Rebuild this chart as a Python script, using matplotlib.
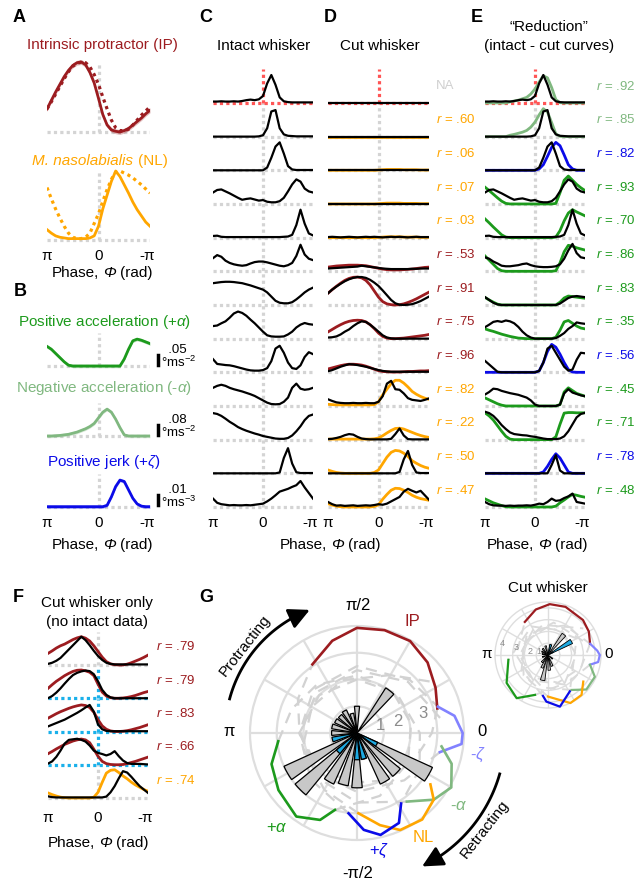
import numpy as np
import matplotlib.pyplot as plt
from matplotlib.lines import Line2D
from matplotlib.offsetbox import TextArea, HPacker, AnnotationBbox

plt.rcParams['font.family'] = ['Liberation Sans', 'DejaVu Sans']
plt.rcParams['mathtext.fontset'] = 'custom'
plt.rcParams['mathtext.rm'] = 'Liberation Sans'
plt.rcParams['mathtext.it'] = 'Liberation Sans:italic'
plt.rcParams['mathtext.bf'] = 'Liberation Sans:bold'

# colours
IP_C = '#9c1c20'
NL_C = '#ffa600'
PA_C = '#1c9a1c'
NA_C = '#80b880'
PZ_C = '#0b0be8'
NZ_C = '#8282ff'
DOT_C = '#d4d4d4'
RED_DOT = '#ff5555'
CYAN_DOT = '#1ab0ea'
NA_TXT = '#d0d0d0'
GRID_C = '#dedede'
COLS = {'IP': IP_C, 'NL': NL_C, '+a': PA_C, '-a': NA_C, '+z': PZ_C, '-z': NZ_C, '': NA_TXT}

# phase samples: pi on the left down to -pi on the right, 15 deg steps
phase = np.linspace(np.pi, -np.pi, 25)

# ---- A / B: muscle and kinematic models (normalised)
ip_solid = [0.33, 0.45, 0.57, 0.68, 0.79, 0.88, 0.95, 0.99, 1.0, 0.96, 0.85, 0.7, 0.48, 0.25, 0.1,
            0.03, 0.01, 0.0, 0.02, 0.05, 0.1, 0.15, 0.2, 0.26, 0.31]
ip_dotted = [0.33, 0.43, 0.54, 0.65, 0.76, 0.86, 0.94, 0.98, 1.0, 0.99, 0.93, 0.82, 0.68, 0.5, 0.33,
             0.17, 0.06, 0.02, 0.02, 0.04, 0.1, 0.17, 0.24, 0.3, 0.36]
nl_solid = [0.15, 0.1, 0.06, 0.04, 0.03, 0.02, 0.02, 0.02, 0.02, 0.02, 0.03, 0.06, 0.2, 0.45, 0.65,
            0.85, 1.0, 0.92, 0.8, 0.68, 0.55, 0.44, 0.35, 0.26, 0.2]
nl_dotted = [0.76, 0.6, 0.45, 0.32, 0.2, 0.1, 0.04, 0.02, 0.02, 0.04, 0.1, 0.24, 0.38, 0.56, 0.73,
             0.88, 0.98, 1.0, 0.97, 0.94, 0.9, 0.85, 0.8, 0.74, 0.68]
pos_acc = [0.7, 0.6, 0.45, 0.3, 0.15, 0.03, 0, 0, 0, 0, 0, 0, 0, 0, 0, 0, 0, 0, 0.25, 0.6,
           0.9, 0.96, 0.92, 0.86, 0.8]
neg_acc = [0, 0, 0.01, 0.02, 0.04, 0.06, 0.1, 0.14, 0.2, 0.26, 0.34, 0.45, 0.65, 0.85, 0.96,
           0.85, 0.6, 0.3, 0.04, 0, 0, 0, 0, 0, 0]
pos_jerk = [0, 0, 0, 0, 0, 0, 0, 0, 0, 0, 0, 0, 0, 0, 0.05, 0.35, 0.72, 0.95, 0.9, 0.6,
            0.3, 0.1, 0.02, 0, 0]

# ---- C: intact whisker, 13 units
intact_rows = [
    [0.05, 0.05, 0.06, 0.05, 0.05, 0.06, 0.05, 0.07, 0.1, 0.12, 0.1, 0.13, 0.25, 0.7, 1.0, 0.65, 0.2, 0.06, 0.03, 0.02, 0.02, 0.02, 0.02, 0.02, 0.02],
    [0, 0, 0, 0, 0, 0, 0, 0, 0, 0, 0, 0.01, 0.05, 0.3, 0.9, 0.95, 0.3, 0.08, 0.03, 0.02, 0.01, 0.01, 0.01, 0.01, 0.01],
    [0, 0, 0, 0, 0, 0, 0, 0, 0, 0, 0, 0, 0, 0.1, 0.45, 0.85, 1.0, 0.6, 0.15, 0.03, 0.01, 0.01, 0.01, 0.01, 0.01],
    [0.41, 0.5, 0.52, 0.45, 0.38, 0.3, 0.22, 0.15, 0.18, 0.2, 0.16, 0.12, 0.14, 0.08, 0.06, 0.06, 0.1, 0.22, 0.45, 0.7, 0.88, 0.8, 0.55, 0.45, 0.41],
    [0.06, 0.07, 0.03, 0.02, 0.02, 0.02, 0.02, 0.02, 0.02, 0.02, 0.02, 0.02, 0.02, 0.02, 0.02, 0.02, 0.02, 0.03, 0.04, 0.1, 0.45, 1.0, 0.5, 0.15, 0.08],
    [0.47, 0.58, 0.52, 0.38, 0.3, 0.25, 0.22, 0.2, 0.22, 0.28, 0.33, 0.35, 0.35, 0.32, 0.28, 0.24, 0.2, 0.18, 0.22, 0.3, 0.55, 0.95, 0.6, 0.45, 0.4],
    [0.78, 0.8, 0.82, 0.83, 0.83, 0.82, 0.8, 0.78, 0.74, 0.7, 0.65, 0.6, 0.55, 0.45, 0.3, 0.15, 0.08, 0.06, 0.06, 0.1, 0.2, 0.32, 0.45, 0.55, 0.62],
    [0.45, 0.47, 0.55, 0.62, 0.75, 0.9, 0.97, 0.92, 0.82, 0.68, 0.55, 0.4, 0.25, 0.12, 0.08, 0.07, 0.07, 0.08, 0.15, 0.25, 0.4, 0.5, 0.56, 0.52, 0.5],
    [0.47, 0.3, 0.28, 0.26, 0.25, 0.22, 0.18, 0.14, 0.1, 0.07, 0.06, 0.06, 0.08, 0.15, 0.4, 0.85, 0.95, 0.7, 0.35, 0.15, 0.12, 0.25, 0.55, 0.72, 0.65],
    [0.65, 0.72, 0.76, 0.72, 0.65, 0.6, 0.56, 0.52, 0.47, 0.42, 0.36, 0.28, 0.2, 0.12, 0.07, 0.06, 0.07, 0.15, 0.3, 0.65, 0.8, 0.62, 0.58, 0.6, 0.65],
    [0.95, 0.92, 0.85, 0.75, 0.64, 0.55, 0.45, 0.38, 0.32, 0.27, 0.22, 0.18, 0.13, 0.1, 0.07, 0.04, 0.03, 0.03, 0.06, 0.15, 0.3, 0.48, 0.7, 0.85, 0.9],
    [0, 0, 0, 0, 0, 0, 0, 0, 0, 0, 0, 0, 0, 0, 0, 0, 0.03, 0.55, 0.9, 0.35, 0.04, 0.01, 0.01, 0.01, 0.01],
    [0.3, 0.15, 0.1, 0.08, 0.06, 0.07, 0.06, 0.06, 0.07, 0.06, 0.08, 0.1, 0.12, 0.2, 0.3, 0.42, 0.55, 0.6, 0.65, 0.72, 0.78, 0.93, 0.7, 0.5, 0.3],
]

# ---- D: cut whisker and model fits
cut_rows = [
    [0.0] * 25,
    [0.0] * 25,
    [0.0] * 25,
    [0.0] * 25,
    [0.02, 0.03, 0.02, 0.01, 0.02, 0.03, 0.02, 0.01, 0.02, 0.03, 0.02, 0.03, 0.02, 0.01, 0.02, 0.03, 0.02, 0.03, 0.02, 0.01, 0.02, 0.03, 0.02, 0.02, 0.02],
    [0.1, 0.11, 0.12, 0.13, 0.14, 0.15, 0.16, 0.17, 0.2, 0.18, 0.16, 0.14, 0.12, 0.1, 0.09, 0.08, 0.08, 0.08, 0.08, 0.08, 0.09, 0.09, 0.1, 0.1, 0.1],
    [0.42, 0.55, 0.66, 0.76, 0.85, 0.92, 0.97, 1.0, 1.0, 0.97, 0.9, 0.8, 0.68, 0.52, 0.35, 0.18, 0.06, 0.01, 0.0, 0.01, 0.03, 0.08, 0.14, 0.22, 0.3],
    [0.04, 0.05, 0.08, 0.15, 0.25, 0.33, 0.45, 0.55, 0.62, 0.6, 0.5, 0.38, 0.25, 0.12, 0.04, 0.01, 0, 0, 0, 0, 0, 0, 0, 0, 0],
    [0.04, 0.08, 0.14, 0.2, 0.25, 0.29, 0.28, 0.26, 0.23, 0.2, 0.16, 0.12, 0.08, 0.05, 0.03, 0.02, 0.02, 0.02, 0.02, 0.02, 0.02, 0.02, 0.02, 0.02, 0.02],
    [0.24, 0.18, 0.13, 0.11, 0.1, 0.1, 0.11, 0.1, 0.1, 0.11, 0.1, 0.1, 0.15, 0.35, 0.8, 0.9, 0.6, 0.58, 0.45, 0.28, 0.22, 0.2, 0.18, 0.22, 0.27],
    [0.02, 0.03, 0.06, 0.1, 0.16, 0.2, 0.18, 0.1, 0.04, 0.02, 0.01, 0.01, 0.01, 0.01, 0.01, 0.03, 0.2, 0.4, 0.15, 0.02, 0.01, 0.01, 0.01, 0.01, 0.01],
    [0, 0, 0, 0, 0, 0, 0, 0, 0, 0, 0, 0, 0, 0, 0, 0, 0, 0.05, 0.5, 0.8, 0.3, 0.03, 0.01, 0.01, 0.01],
    [0.18, 0.1, 0.05, 0.06, 0.04, 0.05, 0.06, 0.04, 0.05, 0.06, 0.05, 0.07, 0.1, 0.08, 0.12, 0.2, 0.28, 0.36, 0.55, 0.65, 0.58, 0.52, 0.58, 0.42, 0.26],
]
cut_fits = [
    [],
    [0.0] * 25,
    [0, 0, 0, 0, 0, 0, 0, 0, 0, 0, 0, 0, 0.01, 0.02, 0.03, 0.03, 0.03, 0.03, 0.02, 0.02, 0.02, 0.02, 0.01, 0.01, 0.01],
    [0, 0, 0, 0, 0, 0, 0, 0, 0, 0, 0, 0, 0.01, 0.02, 0.03, 0.03, 0.03, 0.03, 0.02, 0.02, 0.02, 0.02, 0.01, 0.01, 0.01],
    [0, 0, 0, 0, 0, 0, 0, 0, 0, 0, 0, 0, 0.01, 0.02, 0.03, 0.03, 0.03, 0.03, 0.02, 0.02, 0.02, 0.02, 0.01, 0.01, 0.01],
    [0.15, 0.17, 0.19, 0.2, 0.21, 0.22, 0.22, 0.22, 0.21, 0.2, 0.17, 0.14, 0.11, 0.08, 0.06, 0.05, 0.05, 0.05, 0.06, 0.07, 0.08, 0.1, 0.12, 0.14, 0.15],
    [0.42, 0.55, 0.67, 0.78, 0.88, 0.95, 0.99, 1.0, 0.97, 0.88, 0.72, 0.5, 0.28, 0.12, 0.04, 0.01, 0.0, 0.01, 0.04, 0.09, 0.15, 0.22, 0.3, 0.38, 0.46],
    [0.24, 0.33, 0.42, 0.5, 0.57, 0.62, 0.65, 0.66, 0.65, 0.6, 0.5, 0.36, 0.2, 0.08, 0.02, 0.0, 0.0, 0.01, 0.02, 0.04, 0.06, 0.08, 0.1, 0.12, 0.15],
    [0.12, 0.16, 0.2, 0.24, 0.27, 0.29, 0.29, 0.28, 0.26, 0.22, 0.17, 0.11, 0.06, 0.03, 0.02, 0.01, 0.01, 0.01, 0.02, 0.03, 0.03, 0.04, 0.05, 0.05, 0.06],
    [0.06, 0.05, 0.04, 0.04, 0.04, 0.04, 0.04, 0.04, 0.04, 0.04, 0.04, 0.05, 0.15, 0.4, 0.6, 0.8, 0.92, 0.92, 0.82, 0.68, 0.52, 0.42, 0.34, 0.28, 0.24],
    [0.02, 0.02, 0.02, 0.02, 0.02, 0.02, 0.02, 0.02, 0.02, 0.02, 0.02, 0.03, 0.06, 0.14, 0.24, 0.33, 0.4, 0.41, 0.38, 0.32, 0.26, 0.2, 0.15, 0.11, 0.08],
    [0.12, 0.07, 0.03, 0.01, 0, 0, 0, 0, 0, 0, 0, 0.03, 0.12, 0.35, 0.58, 0.75, 0.82, 0.8, 0.72, 0.6, 0.45, 0.36, 0.28, 0.22, 0.18],
    [0.12, 0.07, 0.03, 0.01, 0, 0, 0, 0, 0, 0, 0, 0.02, 0.08, 0.28, 0.45, 0.6, 0.67, 0.66, 0.6, 0.52, 0.42, 0.35, 0.3, 0.27, 0.24],
]
cut_fit_names = ['', 'NL', 'NL', 'NL', 'NL', 'IP', 'IP', 'IP', 'IP', 'NL', 'NL', 'NL', 'NL']
cut_r = ['NA', '.60', '.06', '.07', '.03', '.53', '.91', '.75', '.96', '.82', '.22', '.50', '.47']

# ---- E: reduction (intact - cut) and kinematic fits
red_rows = intact_rows[:5] + [
    [0.5, 0.45, 0.35, 0.28, 0.2, 0.18, 0.18, 0.2, 0.22, 0.26, 0.28, 0.22, 0.18, 0.16, 0.15, 0.15, 0.16, 0.18, 0.25, 0.45, 0.75, 0.98, 0.65, 0.5, 0.47],
    [0.28, 0.18, 0.08, 0.02, 0, 0, 0, 0, 0, 0, 0, 0, 0, 0, 0, 0, 0, 0, 0.05, 0.15, 0.25, 0.3, 0.32, 0.3, 0.28],
    [0.41, 0.5, 0.6, 0.63, 0.6, 0.65, 0.62, 0.55, 0.42, 0.25, 0.12, 0.04, 0, 0, 0, 0, 0, 0.02, 0.1, 0.2, 0.35, 0.45, 0.58, 0.55, 0.53],
    [0.41, 0.28, 0.15, 0.02, 0, 0, 0, 0, 0, 0, 0, 0, 0, 0.05, 0.35, 0.85, 0.95, 0.7, 0.45, 0.2, 0.06, 0.1, 0.45, 0.7, 0.68],
    [0.41, 0.5, 0.62, 0.6, 0.54, 0.5, 0.46, 0.43, 0.4, 0.35, 0.3, 0.2, 0.05, 0, 0, 0, 0, 0, 0.05, 0.45, 0.6, 0.48, 0.43, 0.38, 0.35],
    [1.0, 0.95, 0.85, 0.7, 0.52, 0.38, 0.26, 0.2, 0.18, 0.16, 0.15, 0.12, 0.1, 0.07, 0.04, 0.02, 0.02, 0.02, 0.04, 0.12, 0.3, 0.55, 0.8, 0.92, 0.96],
    [0, 0, 0, 0, 0, 0, 0, 0, 0, 0, 0, 0, 0, 0, 0, 0, 0.3, 0.65, 0.1, 0, 0, 0, 0, 0, 0],
    [0.18, 0.1, 0.06, 0.05, 0.05, 0.04, 0.05, 0.04, 0.05, 0.05, 0.06, 0.05, 0.08, 0.12, 0.1, 0.18, 0.3, 0.22, 0.24, 0.32, 0.38, 0.48, 0.18, 0.15, 0.12],
]
red_fits = [
    [0, 0, 0, 0, 0, 0, 0.04, 0.07, 0.1, 0.15, 0.2, 0.32, 0.5, 0.75, 0.97, 0.9, 0.55, 0.12, 0.01, 0, 0, 0, 0, 0, 0],
    [0, 0, 0, 0, 0, 0, 0.05, 0.08, 0.12, 0.16, 0.22, 0.34, 0.52, 0.78, 1.0, 0.88, 0.5, 0.1, 0.01, 0, 0, 0, 0, 0, 0],
    [0, 0, 0, 0, 0, 0, 0, 0, 0, 0, 0, 0, 0, 0.05, 0.2, 0.5, 0.82, 1.0, 0.88, 0.55, 0.2, 0.05, 0, 0, 0],
    [0.6, 0.48, 0.35, 0.22, 0.1, 0.02, 0, 0, 0, 0, 0, 0, 0, 0, 0, 0, 0, 0.02, 0.4, 0.85, 1.0, 0.85, 0.7, 0.58, 0.48],
    [0.67, 0.53, 0.38, 0.24, 0.1, 0.02, 0, 0, 0, 0, 0, 0, 0, 0, 0, 0, 0, 0.02, 0.25, 0.6, 0.88, 1.0, 0.92, 0.85, 0.78],
    [0.55, 0.4, 0.25, 0.1, 0.02, 0, 0, 0, 0, 0, 0, 0, 0, 0, 0, 0, 0, 0.02, 0.3, 0.7, 0.93, 0.9, 0.84, 0.8, 0.76],
    [0.27, 0.18, 0.1, 0.03, 0, 0, 0, 0, 0, 0, 0, 0, 0, 0, 0, 0, 0, 0, 0.1, 0.25, 0.32, 0.3, 0.28, 0.26, 0.24],
    [0.35, 0.3, 0.26, 0.21, 0.16, 0.12, 0.08, 0.05, 0.02, 0.01, 0, 0, 0, 0, 0, 0, 0, 0.05, 0.3, 0.6, 0.65, 0.55, 0.45, 0.38, 0.35],
    [0, 0, 0, 0, 0, 0, 0, 0, 0, 0, 0, 0, 0, 0.05, 0.35, 0.75, 1.0, 0.9, 0.65, 0.35, 0.1, 0.01, 0, 0, 0],
    [0.29, 0.22, 0.15, 0.08, 0.03, 0, 0, 0, 0, 0, 0, 0, 0, 0, 0, 0, 0, 0, 0.05, 0.5, 0.65, 0.55, 0.45, 0.4, 0.35],
    [0.96, 0.85, 0.7, 0.5, 0.3, 0.12, 0.02, 0, 0, 0, 0, 0, 0, 0, 0, 0, 0, 0.1, 0.55, 0.95, 0.97, 0.97, 0.96, 0.96, 0.96],
    [0, 0, 0, 0, 0, 0, 0, 0, 0, 0, 0, 0, 0, 0, 0.05, 0.25, 0.5, 0.7, 0.55, 0.3, 0.05, 0, 0, 0, 0],
    [0.29, 0.22, 0.15, 0.1, 0.05, 0.01, 0, 0, 0, 0, 0, 0, 0, 0, 0, 0, 0, 0.03, 0.15, 0.25, 0.36, 0.45, 0.42, 0.38, 0.35],
]
red_fit_names = ['-a', '-a', '+z', '+a', '+a', '+a', '+a', '+a', '+z', '+a', '+a', '+z', '+a']
red_r = ['.92', '.85', '.82', '.93', '.70', '.86', '.83', '.35', '.56', '.45', '.71', '.78', '.48']

# ---- F: cut whisker only units
f_rows = [
    [0.04, 0.08, 0.15, 0.25, 0.4, 0.55, 0.7, 0.85, 1.0, 0.88, 0.7, 0.5, 0.32, 0.18, 0.08, 0.04, 0.02, 0.02, 0.02, 0.02, 0.02, 0.02, 0.02, 0.02, 0.02],
    [0.0, 0.08, 0.2, 0.35, 0.52, 0.68, 0.82, 0.9, 0.95, 0.98, 0.96, 0.85, 0.6, 0.3, 0.12, 0.03, 0, 0, 0, 0, 0, 0, 0, 0, 0],
    [0.18, 0.24, 0.3, 0.36, 0.42, 0.5, 0.58, 0.66, 0.75, 0.85, 0.94, 0.7, 0.25, 0.08, 0.02, 0.01, 0.01, 0.01, 0.01, 0.01, 0.01, 0.01, 0.01, 0.01, 0.01],
    [0.04, 0.12, 0.28, 0.5, 0.75, 0.88, 0.9, 0.92, 0.88, 0.82, 0.68, 0.5, 0.42, 0.38, 0.33, 0.38, 0.48, 0.3, 0.15, 0.06, 0.03, 0.03, 0.03, 0.02, 0.01],
    [0.06, 0.03, 0.02, 0.02, 0.02, 0.02, 0.02, 0.02, 0.02, 0.02, 0.02, 0.02, 0.02, 0.02, 0.05, 0.2, 0.42, 0.7, 0.95, 0.9, 0.75, 0.58, 0.42, 0.3, 0.18],
]
f_fits = [
    [0.41, 0.5, 0.6, 0.68, 0.74, 0.82, 0.9, 0.96, 1.0, 0.95, 0.85, 0.68, 0.48, 0.28, 0.12, 0.04, 0.01, 0.0, 0.0, 0.03, 0.08, 0.14, 0.2, 0.27, 0.35],
    [0.35, 0.48, 0.6, 0.7, 0.8, 0.88, 0.95, 0.99, 1.0, 0.97, 0.92, 0.8, 0.5, 0.22, 0.08, 0.02, 0, 0, 0.01, 0.03, 0.06, 0.1, 0.15, 0.2, 0.24],
    [0.47, 0.55, 0.63, 0.7, 0.76, 0.82, 0.87, 0.91, 0.94, 0.92, 0.85, 0.68, 0.42, 0.2, 0.08, 0.02, 0, 0, 0.01, 0.03, 0.06, 0.1, 0.14, 0.19, 0.24],
    [0.39, 0.47, 0.56, 0.64, 0.72, 0.78, 0.84, 0.88, 0.91, 0.88, 0.78, 0.55, 0.3, 0.12, 0.04, 0.01, 0, 0, 0.01, 0.04, 0.08, 0.12, 0.17, 0.22, 0.27],
    [0.18, 0.12, 0.07, 0.03, 0.01, 0, 0, 0, 0, 0, 0, 0.03, 0.2, 0.55, 0.88, 0.98, 1.0, 0.9, 0.78, 0.68, 0.56, 0.46, 0.38, 0.3, 0.24],
]
f_fit_names = ['IP', 'IP', 'IP', 'IP', 'NL']
f_r = ['.79', '.79', '.83', '.66', '.74']
f_dots = [DOT_C, CYAN_DOT, CYAN_DOT, CYAN_DOT, DOT_C]

# ---- G: preferred phase histogram (all units / cut-only units)
rose_theta = [52, 90, 105, 120, 135, 150, 165, 180, 195, 210, 225, 240, 255, 270, 285, 300, 315, 330]
rose_all = [2.0, 1.0, 0.75, 0.95, 0.9, 0.92, 0.96, 0.95, 0.5, 3.0, 3.0, 2.1, 2.0, 2.05, 1.0, 2.1, 2.1, 3.1]
rose_cut = [0, 0, 0, 0, 0, 0, 0, 0, 0.95, 0, 1.0, 0, 0, 1.0, 1.0, 0, 0, 0.85]

# model tuning curves in polar form (deg, radius); coloured part then dashed part
g_curves = [
    (IP_C, [123, 105, 90, 75, 60, 45, 30, 17], [3.06, 3.57, 3.93, 3.98, 3.97, 3.73, 3.39, 3.14],
     [17, 0, -30, -60, -90, -120, -150, -180, -210, -237], [3.14, 2.8, 2.35, 2.05, 1.85, 1.8, 1.9, 2.15, 2.55, 3.06]),
    (NZ_C, [18, 10, 0, -6, -13], [3.18, 3.7, 3.95, 3.93, 3.18],
     [-13, -45, -90, -135, -180, -225, -270, -315, -342], [3.18, 2.5, 2.2, 2.1, 2.15, 2.3, 2.5, 2.8, 3.18]),
    (NA_C, [-9, -18, -30, -41, -54], [3.2, 3.72, 4.07, 3.8, 3.17],
     [-54, -90, -135, -180, -225, -270, -315, -351], [3.17, 2.6, 2.25, 2.1, 2.15, 2.35, 2.7, 3.2]),
    (NL_C, [-35, -41, -53, -66, -76, -89], [3.35, 3.8, 4.05, 3.97, 3.55, 3.0],
     [-89, -120, -165, -210, -255, -300, -325], [3.0, 2.45, 2.1, 1.95, 2.05, 2.5, 3.35]),
    (PZ_C, [-58, -65, -77, -86, -96], [3.11, 3.71, 3.91, 3.63, 3.02],
     [-96, -135, -180, -225, -270, -315, -360, -390, -418], [3.02, 2.45, 2.15, 2.0, 2.0, 2.1, 2.35, 2.7, 3.11]),
    (PA_C, [186, 200, 216, 234, 247, 254], [2.96, 3.4, 3.63, 3.86, 3.53, 2.99],
     [254, 290, 330, 370, 410, 450, 490, 520, 546], [2.99, 2.5, 2.2, 2.05, 2.05, 2.15, 2.35, 2.6, 2.96]),
]

ins_theta = [30, 52, 75, 105, 130, 150, 170, 200, 230, 245, 258, 275, 290, 320]
ins_all = [0.5, 2.2, 0.9, 0.8, 0.7, 0.6, 0.5, 0.5, 0.8, 1.2, 2.2, 1.3, 1.0, 0.5]
ins_cut = [2.3, 0, 0.9, 0, 0, 0, 0, 0, 0, 0, 0, 0, 0, 0]
ins_curves = [
    (IP_C, [125, 105, 88, 70, 45, 30, 15], [3.43, 4.0, 4.32, 4.35, 4.2, 4.0, 3.7],
     [15, -20, -70, -130, -180, -235], [3.7, 3.0, 2.5, 2.4, 2.7, 3.43]),
    (NZ_C, [15, 5, 0, -8, -13], [3.7, 4.2, 4.4, 4.3, 3.66],
     [-13, -60, -120, -180, -240, -300, -345], [3.66, 2.9, 2.5, 2.4, 2.5, 2.9, 3.7]),
    (NA_C, [-13, -25, -42, -56], [3.66, 4.39, 4.38, 3.58],
     [-56, -100, -160, -220, -280, -347], [3.58, 2.8, 2.4, 2.4, 2.8, 3.66]),
    (NL_C, [-37, -50, -65, -90], [3.75, 4.43, 4.5, 3.53],
     [-90, -140, -200, -260, -323], [3.53, 2.7, 2.3, 2.6, 3.75]),
    (PZ_C, [-59, -77, -92, -97], [3.6, 4.5, 3.96, 3.5],
     [-97, -150, -210, -270, -330, -419], [3.5, 2.6, 2.3, 2.4, 2.8, 3.6]),
    (PA_C, [187, 214, 234, 252], [3.39, 4.24, 4.53, 3.56],
     [252, 300, 360, 420, 480, 547], [3.56, 2.8, 2.4, 2.4, 2.8, 3.39]),
]

W, H = 636, 881
fig = plt.figure(figsize=(W / 100, H / 100), dpi=100)


def px_axes(x0, x1, ytop, ybot, **kw):
    return fig.add_axes([x0 / W, 1 - ybot / H, (x1 - x0) / W, (ybot - ytop) / H], **kw)


def txt(x, y, s, **kw):
    kw.setdefault('ha', 'center')
    kw.setdefault('va', 'center')
    return fig.text(x / W, 1 - y / H, s, **kw)


def dotted(ax, xs, ys, color=DOT_C, z=1):
    ax.plot(xs, ys, color=color, lw=2.3, dashes=(1, 1), dash_capstyle='butt', zorder=z)


def phase_ticks(x0, x1, y):
    txt(x0, y, 'π', size=11)
    txt((x0 + x1) / 2, y, '0', size=11)
    txt(x1 - 3, y, '-π', size=11)


def rich(x, y, parts, size=11, color='black'):
    boxes = [TextArea(s, textprops=dict(size=size, color=color, style=st)) for s, st in parts]
    box = HPacker(children=boxes, pad=0, sep=3, align='baseline')
    fig.add_artist(AnnotationBbox(box, (x / W, 1 - y / H), xycoords='figure fraction',
                                  frameon=False, box_alignment=(0.5, 0.5), pad=0))


def phase_label(x, y):
    rich(x, y, [('Phase,', 'normal'), ('Φ', 'italic'), ('(rad)', 'normal')])


def small_axes(x0, x1, base, unit, lo=-0.06, hi=1.2):
    ax = px_axes(x0, x1, base - hi * unit, base - lo * unit)
    ax.set_xlim(np.pi, -np.pi)
    ax.set_ylim(lo, hi)
    ax.axis('off')
    return ax


def model_panel(ax, vals, color, band, top=1.0):
    dotted(ax, [np.pi, -np.pi], [0, 0])
    dotted(ax, [0, 0], [0, top])
    v = np.array(vals)
    if band:
        ax.fill_between(phase, v - band, v + band, color=color, alpha=0.3, lw=0, zorder=2)
    ax.plot(phase, v, color=color, lw=2.0, zorder=3)


# ---------------- A
ax = small_axes(47, 150, 132, 70, hi=1.1)
model_panel(ax, ip_solid, IP_C, 0.035)
ax.plot(phase, ip_dotted, color=IP_C, lw=2.3, dashes=(1, 1.2), zorder=3)
ax = small_axes(47, 150, 240, 69, hi=1.1)
model_panel(ax, nl_solid, NL_C, 0)
ax.plot(phase, nl_dotted, color=NL_C, lw=2.3, dashes=(1, 1.2), zorder=3)
txt(102, 45, 'Intrinsic protractor (IP)', size=11, color=IP_C)
rich(100, 161, [('M. nasolabialis', 'italic'), ('(NL)', 'normal')], color=NL_C)
phase_ticks(47, 150, 256)
phase_label(102, 273)

# ---------------- B
for base, vals, col, title, ty, sb, unit_s, sb_y in [
        (366, pos_acc, PA_C, 'Positive acceleration (+$\\alpha$)', 322, '.05', '°ms$^{-2}$', 360),
        (436, neg_acc, NA_C, 'Negative acceleration (-$\\alpha$)', 388, '.08', '°ms$^{-2}$', 430),
        (506.7, pos_jerk, PZ_C, 'Positive jerk (+$\\zeta$)', 462, '.01', '°ms$^{-3}$', 500)]:
    ax = small_axes(47, 150, base, 28, lo=-0.1, hi=1.25)
    model_panel(ax, vals, col, 0.06, top=1.17)
    txt(104, ty, title, size=11, color=col)
    fig.add_artist(Line2D([158 / W, 158 / W], [1 - (sb_y - 5) / H, 1 - (sb_y + 5) / H],
                          color='black', lw=2.5))
    # scale bar value and unit as one two-line label
    txt(161, sb_y - 3, '  ' + sb + '\n' + unit_s, size=9.5, ha='left', va='center',
        linespacing=0.95)
phase_ticks(47, 150, 523)
phase_label(102, 545)

# ---------------- C, D, E stacked units
N = 13
STEP = 33.67
AMP = 0.83
cols_x = [(213, 313), (328, 429), (485, 585)]
stacks = [(intact_rows, None, None), (cut_rows, cut_fits, cut_fit_names),
          (red_rows, red_fits, red_fit_names)]
for (x0, x1), (rows, fits, names) in zip(cols_x, stacks):
    ax = px_axes(x0, x1, 507 - (N - 1 + 1.0) * STEP, 507 + 0.1 * STEP)
    ax.set_xlim(np.pi, -np.pi)
    ax.set_ylim(-0.1, N - 1 + 1.0)
    ax.axis('off')
    dotted(ax, [0, 0], [0, N - 1])
    dotted(ax, [0, 0], [N - 1, N - 1 + 1.0], RED_DOT, z=1.5)
    for k in range(N):
        off = N - 1 - k
        dotted(ax, [np.pi, -np.pi], [off, off], RED_DOT if k == 0 else DOT_C, z=1.5 if k == 0 else 1)
        if fits is not None and len(fits[k]):
            ax.plot(phase, off + AMP * np.array(fits[k]), color=COLS[names[k]], lw=2.0, zorder=2)
        ax.plot(phase, off + AMP * np.array(rows[k]), color='black', lw=1.6, zorder=3)
    phase_ticks(x0, x1, 523)

for k in range(N):
    yb = 103 + k * STEP - 17
    if cut_r[k] == 'NA':
        txt(436, yb, 'NA', size=9.5, color=NA_TXT, ha='left')
    else:
        txt(436, yb, '$r$ = ' + cut_r[k], size=9.5, color=COLS[cut_fit_names[k]], ha='left')
    txt(596, yb, '$r$ = ' + red_r[k], size=9.5, color=COLS[red_fit_names[k]], ha='left')

txt(264, 46, 'Intact whisker', size=11)
txt(380, 46, 'Cut whisker', size=11)
txt(549, 27, '\u201cReduction\u201d', size=11)
txt(549, 46, '(intact - cut curves)', size=11)
phase_label(330, 545)
phase_label(537, 545)

# ---------------- F
NF = 5
FSTEP = 33.25
ax = px_axes(48, 148, 798 - NF * FSTEP, 798 + 0.1 * FSTEP)
ax.set_xlim(np.pi, -np.pi)
ax.set_ylim(-0.1, NF)
ax.axis('off')
for k in range(NF):
    off = NF - 1 - k
    dotted(ax, [np.pi, -np.pi], [off, off], f_dots[k])
    dotted(ax, [0, 0], [off, off + 0.98], f_dots[k])
    ax.plot(phase, off + 0.85 * np.array(f_fits[k]), color=COLS[f_fit_names[k]], lw=2.0, zorder=2)
    ax.plot(phase, off + 0.85 * np.array(f_rows[k]), color='black', lw=1.6, zorder=3)
    txt(156, 665 + k * FSTEP - 18, '$r$ = ' + f_r[k], size=9.5, color=COLS[f_fit_names[k]], ha='left')
txt(97, 603, 'Cut whisker only', size=11)
txt(97, 622, '(no intact data)', size=11)
phase_ticks(48, 148, 818)
phase_label(98, 843)


# ---------------- G polar plots
def polar_setup(ax, rmax, ticks, lw):
    ax.set_ylim(0, rmax)
    ax.set_yticks(ticks)
    ax.set_yticklabels([])
    ax.set_xticks(np.deg2rad(np.arange(0, 360, 30)))
    ax.set_xticklabels([])
    ax.grid(True, color=GRID_C, lw=lw)
    ax.spines['polar'].set_color(GRID_C)
    ax.spines['polar'].set_linewidth(lw)
    ax.patch.set_alpha(0)


def polar_content(ax, theta, all_v, cut_v, curves, width, lw_c, lw_e, dash_c):
    for col, th, r, dth, dr in curves:
        ax.plot(np.deg2rad(dth), dr, color=dash_c, lw=lw_c * 0.85, dashes=(5, 3.5), zorder=2)
    t = np.deg2rad(theta)
    ax.bar(t, all_v, width=np.deg2rad(width), color='#c8c8c8', edgecolor='black', lw=lw_e, zorder=3)
    cv = np.array(cut_v)
    m = cv > 0
    ax.bar(t[m], cv[m], width=np.deg2rad(width), color='#1eaae2', edgecolor='black', lw=lw_e, zorder=3.5)
    for col, th, r, dth, dr in curves:
        ax.plot(np.deg2rad(th), r, color=col, lw=lw_c, zorder=4, clip_on=False)


axg = px_axes(250, 464, 626, 840, projection='polar')
polar_setup(axg, 4, [1, 2, 3], 1.6)
polar_content(axg, rose_theta, rose_all, rose_cut, g_curves, 11, 1.9, 0.9, '#d2d2d2')


def arc_arrow(ax, th0, th1, r, head):
    th = np.deg2rad(np.linspace(th0, th1, 40))
    ax.plot(th, np.full_like(th, r), color='black', lw=2, clip_on=False, zorder=5)
    ax.annotate('', xy=(np.deg2rad(th1 + head), r), xytext=(np.deg2rad(th1), r),
                arrowprops=dict(arrowstyle='-|>,head_length=0.9,head_width=0.45', color='black',
                                lw=2, shrinkA=0, shrinkB=0, mutation_scale=14),
                annotation_clip=False)


arc_arrow(axg, 165, 118, 4.93, -7)
arc_arrow(axg, -16, -57, 5.55, -7)
axg.text(np.deg2rad(142), 5.3, 'Protracting', rotation=52, ha='center', va='center', size=11)
axg.text(np.deg2rad(-37), 5.98, 'Retracting', rotation=52, ha='center', va='center', size=11)

txt(358, 605, 'π/2', size=12)
txt(229, 732, 'π', size=12)
txt(482, 732, '0', size=12)
txt(358, 873, '-π/2', size=12)
for s, x, y in [('1', 380, 725), ('2', 398, 721), ('3', 423, 713)]:
    txt(x, y, s, size=12, color='#8c8c8c')
txt(412, 621, 'IP', size=12, color=IP_C)
txt(478, 755, '-$\\zeta$', size=12, color=NZ_C)
txt(459, 805, '-$\\alpha$', size=12, color=NA_C)
txt(423, 838, 'NL', size=12, color=NL_C)
txt(379, 851, '+$\\zeta$', size=12, color=PZ_C)
txt(277, 828, '+$\\alpha$', size=12, color=PA_C)

axi = px_axes(495, 601, 602, 708, projection='polar')
polar_setup(axi, 4.5, [1, 2, 3, 4], 1.0)
polar_content(axi, ins_theta, ins_all, ins_cut, ins_curves, 10, 1.6, 0.6, '#dadada')
txt(548, 588, 'Cut whisker', size=11)
txt(487, 654, 'π', size=11)
txt(609, 654, '0', size=11)
for s, x, y in [('4', 502, 643), ('3', 516, 647), ('2', 530, 651), ('1', 539, 652)]:
    txt(x, y, s, size=6.5, color='#8c8c8c')

# panel letters
for s, x, y in [('A', 19, 18), ('B', 20, 292), ('C', 206, 18), ('D', 330, 18),
                ('E', 477, 17), ('F', 18, 597), ('G', 206, 597)]:
    txt(x, y, s, size=13, weight='bold')

fig.savefig('out.png', dpi=100)
